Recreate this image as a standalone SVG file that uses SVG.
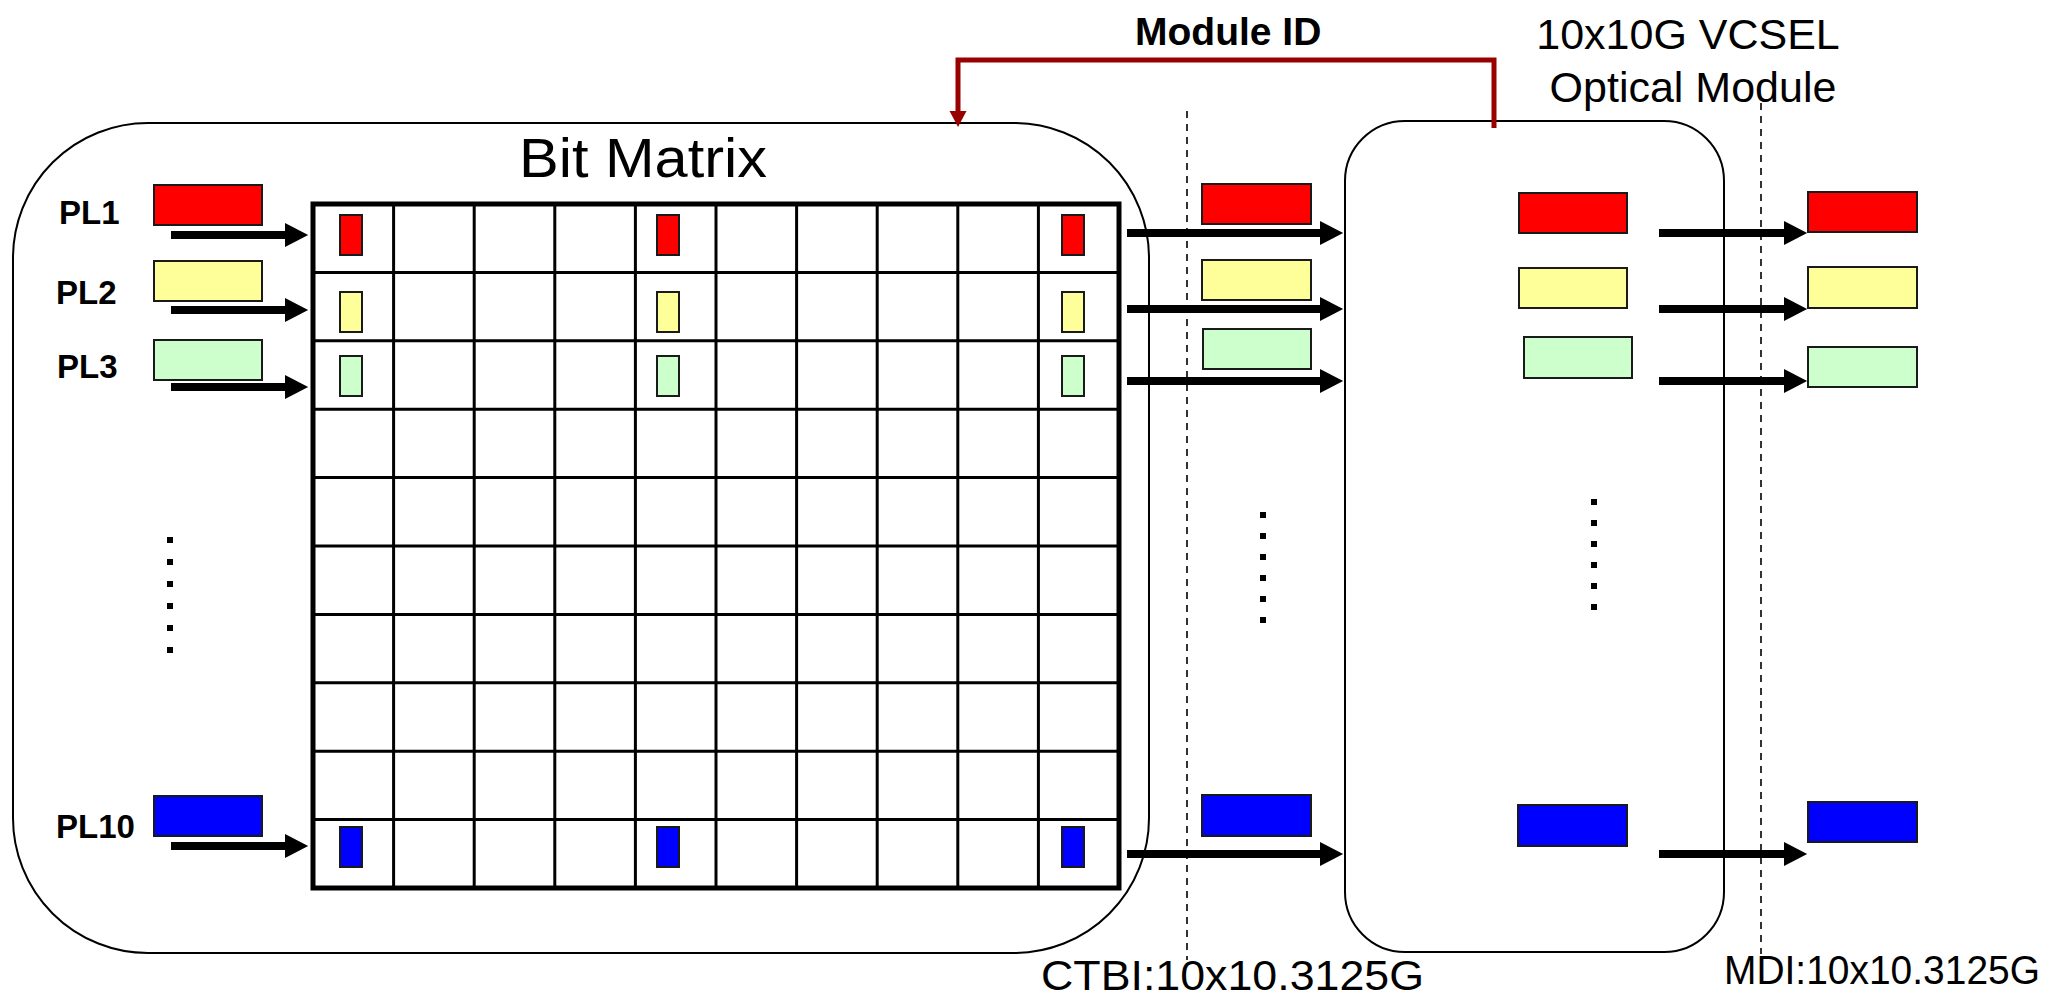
<svg xmlns="http://www.w3.org/2000/svg" width="2055" height="997" viewBox="0 0 2055 997">
  <style>
    .box { fill: #ffffff; stroke: #000000; stroke-width: 2; }
    .grid { fill: none; stroke: #000000; stroke-width: 3; }
    .gridBorder { fill: none; stroke: #000000; stroke-width: 5; }
    .lane { stroke: #1a1a1a; stroke-width: 2; }
    .red { fill: #ff0000; }
    .yellow { fill: #ffff99; }
    .green { fill: #ccffcc; }
    .blue { fill: #0000ff; }
    .flow { stroke: #000000; stroke-width: 8; fill: none; marker-end: url(#head); }
    .dash { stroke: #000000; stroke-width: 1.6; stroke-dasharray: 7 6; fill: none; }
    .lbl { font-family: "Liberation Sans", Arial, sans-serif; fill: #000000; }
    .pl { font-size: 33px; font-weight: bold; }
    .dot { fill: #000000; }
    .mid { stroke: #990000; stroke-width: 5; fill: none; }
  </style>
  <defs>
    <!-- arrowhead starts at the end of the shaft -->
    <marker id="head" markerWidth="3.2" markerHeight="3.2" refX="0" refY="1.5" orient="auto" markerUnits="strokeWidth" overflow="visible">
      <path d="M0,0 L2.9,1.5 L0,3 Z" fill="#000000"/>
    </marker>
  </defs>

  <rect width="2055" height="997" fill="#ffffff"/>

  <!-- switching block with the bit matrix -->
  <g id="switch-block">
    <rect class="box" x="13" y="123" width="1136" height="830" rx="135" ry="135"/>
    <text class="lbl" x="519" y="177" font-size="56" textLength="248" lengthAdjust="spacingAndGlyphs">Bit Matrix</text>
  </g>

  <!-- 10 x 10 grid -->
  <g id="bit-matrix">
    <path class="grid" d="M393.6,204 V888 M474.2,204 V888 M554.8,204 V888 M635.4,204 V888 M716,204 V888 M796.6,204 V888 M877.2,204 V888 M957.8,204 V888 M1038.4,204 V888
                          M313,272.4 H1119 M313,340.8 H1119 M313,409.2 H1119 M313,477.6 H1119 M313,546 H1119 M313,614.4 H1119 M313,682.8 H1119 M313,751.2 H1119 M313,819.6 H1119"/>
    <rect class="gridBorder" x="313" y="204" width="806" height="684"/>
    <!-- lane bits held in columns 1, 5 and 10 -->
    <rect class="lane red" x="340" y="215" width="22" height="40"/>
    <rect class="lane red" x="657" y="215" width="22" height="40"/>
    <rect class="lane red" x="1062" y="215" width="22" height="40"/>
    <rect class="lane yellow" x="340" y="292" width="22" height="40"/>
    <rect class="lane yellow" x="657" y="292" width="22" height="40"/>
    <rect class="lane yellow" x="1062" y="292" width="22" height="40"/>
    <rect class="lane green" x="340" y="356" width="22" height="40"/>
    <rect class="lane green" x="657" y="356" width="22" height="40"/>
    <rect class="lane green" x="1062" y="356" width="22" height="40"/>
    <rect class="lane blue" x="340" y="827" width="22" height="40"/>
    <rect class="lane blue" x="657" y="827" width="22" height="40"/>
    <rect class="lane blue" x="1062" y="827" width="22" height="40"/>
  </g>

  <!-- physical lanes entering the matrix -->
  <g id="input-lanes">
    <text class="lbl pl" x="59" y="224">PL1</text>
    <text class="lbl pl" x="56" y="304">PL2</text>
    <text class="lbl pl" x="57" y="378">PL3</text>
    <text class="lbl pl" x="56" y="838">PL10</text>
    <rect class="lane red" x="154" y="185" width="108" height="40"/>
    <rect class="lane yellow" x="154" y="261" width="108" height="40"/>
    <rect class="lane green" x="154" y="340" width="108" height="40"/>
    <rect class="lane blue" x="154" y="796" width="108" height="40"/>
    <rect class="dot" x="167" y="537" width="6" height="6"/>
    <rect class="dot" x="167" y="559" width="6" height="6"/>
    <rect class="dot" x="167" y="581" width="6" height="6"/>
    <rect class="dot" x="167" y="603" width="6" height="6"/>
    <rect class="dot" x="167" y="625" width="6" height="6"/>
    <rect class="dot" x="167" y="647" width="6" height="6"/>
  </g>

  <!-- CTBI lanes -->
  <g id="ctbi-lanes">
    <rect class="lane red" x="1202" y="184" width="109" height="40"/>
    <rect class="lane yellow" x="1202" y="260" width="109" height="40"/>
    <rect class="lane green" x="1203" y="329" width="108" height="40"/>
    <rect class="lane blue" x="1202" y="795" width="109" height="41"/>
    <rect class="dot" x="1260" y="512" width="6" height="6"/>
    <rect class="dot" x="1260" y="533" width="6" height="6"/>
    <rect class="dot" x="1260" y="554" width="6" height="6"/>
    <rect class="dot" x="1260" y="575" width="6" height="6"/>
    <rect class="dot" x="1260" y="596" width="6" height="6"/>
    <rect class="dot" x="1260" y="617" width="6" height="6"/>
    <text class="lbl" x="1041" y="990" font-size="43" textLength="383" lengthAdjust="spacingAndGlyphs">CTBI:10x10.3125G</text>
  </g>

  <!-- optical module -->
  <g id="optical-module">
    <rect class="box" x="1345" y="121" width="379" height="831" rx="60" ry="60"/>
    <text class="lbl" x="1688" y="49" font-size="43" text-anchor="middle">10x10G VCSEL</text>
    <text class="lbl" x="1693" y="102" font-size="43" text-anchor="middle">Optical Module</text>
    <rect class="lane red" x="1519" y="193" width="108" height="40"/>
    <rect class="lane yellow" x="1519" y="268" width="108" height="40"/>
    <rect class="lane green" x="1524" y="337" width="108" height="41"/>
    <rect class="lane blue" x="1518" y="805" width="109" height="41"/>
    <rect class="dot" x="1591" y="499" width="6" height="6"/>
    <rect class="dot" x="1591" y="520" width="6" height="6"/>
    <rect class="dot" x="1591" y="541" width="6" height="6"/>
    <rect class="dot" x="1591" y="562" width="6" height="6"/>
    <rect class="dot" x="1591" y="583" width="6" height="6"/>
    <rect class="dot" x="1591" y="604" width="6" height="6"/>
  </g>

  <!-- MDI lanes -->
  <g id="mdi-lanes">
    <rect class="lane red" x="1808" y="192" width="109" height="40"/>
    <rect class="lane yellow" x="1808" y="267" width="109" height="41"/>
    <rect class="lane green" x="1808" y="347" width="109" height="40"/>
    <rect class="lane blue" x="1808" y="802" width="109" height="40"/>
    <text class="lbl" x="1724" y="984" font-size="41" textLength="316" lengthAdjust="spacingAndGlyphs">MDI:10x10.3125G</text>
  </g>

  <!-- interface boundaries -->
  <g id="interfaces">
    <line class="dash" x1="1187" y1="111" x2="1187" y2="960"/>
    <line class="dash" x1="1761" y1="103" x2="1761" y2="954"/>
  </g>

  <!-- connectors -->
  <g id="connectors">
    <line class="flow" x1="171" y1="235" x2="285" y2="235"/>
    <line class="flow" x1="171" y1="310" x2="285" y2="310"/>
    <line class="flow" x1="171" y1="387" x2="285" y2="387"/>
    <line class="flow" x1="171" y1="846" x2="285" y2="846"/>

    <line class="flow" x1="1127" y1="233" x2="1320" y2="233"/>
    <line class="flow" x1="1127" y1="309" x2="1320" y2="309"/>
    <line class="flow" x1="1127" y1="381" x2="1320" y2="381"/>
    <line class="flow" x1="1127" y1="854" x2="1320" y2="854"/>

    <line class="flow" x1="1659" y1="233" x2="1784" y2="233"/>
    <line class="flow" x1="1659" y1="309" x2="1784" y2="309"/>
    <line class="flow" x1="1659" y1="381" x2="1784" y2="381"/>
    <line class="flow" x1="1659" y1="854" x2="1784" y2="854"/>

    <!-- module ID feedback -->
    <path class="mid" d="M1494,128 V57.5 M1494,60 H958 V112"/>
    <path d="M949.5,111 L966.5,111 L958,127 Z" fill="#990000"/>
    <text class="lbl" x="1135" y="45" font-size="39" font-weight="bold">Module ID</text>
  </g>
</svg>
